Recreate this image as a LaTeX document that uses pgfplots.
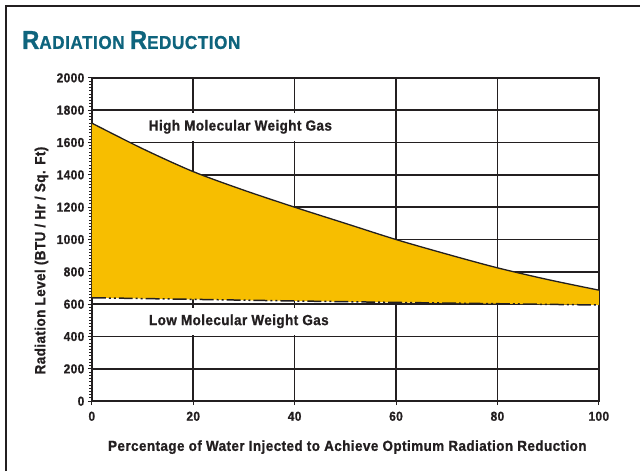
\documentclass[border=0pt]{standalone}
\usepackage{fontspec}
\setmainfont{Liberation Sans Bold}[FakeStretch=0.92, LetterSpace=3, FakeBold=1]
\usepackage{pgfplots}
\pgfplotsset{compat=1.18}
\usepgfplotslibrary{fillbetween}
\definecolor{fillc}{RGB}{247,190,0}
\definecolor{gridc}{RGB}{35,31,32}
\definecolor{titlec}{RGB}{14,100,125}
\begin{document}
\begin{tikzpicture}
\path (0bp,0bp) rectangle (641bp,472bp);
\draw[line width=2.5bp, gridc] (6bp,0bp) -- (6bp,466bp) -- (641bp,466bp);
\node[anchor=base west, text=titlec, inner sep=0pt] at (22bp,423bp) {\fontsize{26}{26}\selectfont R\fontsize{18.7}{18.7}\selectfont ADIATION \fontsize{26}{26}\selectfont R\fontsize{18.7}{18.7}\selectfont EDUCTION};
\begin{axis}[
  at={(92bp,70bp)}, anchor=south west,
  scale only axis, width=508bp, height=324bp,
  xmin=0, xmax=100, ymin=0, ymax=2000,
  xtick={0,20,...,100}, ytick={0,200,...,2000},
  minor y tick num=9,
  grid=major,
  major grid style={gridc, line width=1.5bp},
  axis line style={gridc, line width=1.6bp},
  tick style={gridc, line width=1bp},
  tick align=outside,
  major tick length=4bp, minor tick length=2.5bp,
  xtick pos=bottom, ytick pos=left,
  /pgf/number format/assume math mode=true,
  /pgf/number format/1000 sep={},
  ticklabel style={font=\fontsize{13}{13}\selectfont, text=gridc},
  xticklabel style={yshift=-3bp},
  xlabel={Percentage of Water Injected to Achieve Optimum Radiation Reduction},
  ylabel={Radiation Level (BTU / Hr / Sq. Ft)},
  label style={font=\fontsize{14.7}{14.7}\selectfont, text=gridc},
  xlabel style={at={(axis description cs:0.5,0)}, anchor=center, yshift=-46bp, xshift=2bp},
  ylabel style={at={(axis description cs:0,0.435)}, anchor=center, yshift=50.5bp},
]
\addplot[name path=up, draw=none] coordinates {(0,1720) (10,1562) (20,1420) (30,1305) (40,1200) (50,1100) (60,1000) (70,910) (80,825) (90,752) (100,687)};
\addplot[name path=lo, draw=none] coordinates {(0,640) (20,630) (40,620) (60,611) (80,603) (100,595)};
\addplot[fillc] fill between[of=up and lo];
\addplot[gridc, line width=1.3bp, smooth] coordinates {(0,1720) (10,1562) (20,1420) (30,1305) (40,1200) (50,1100) (60,1000) (70,910) (80,825) (90,752) (100,687)};
\addplot[gridc, line width=1.5bp, dash pattern=on 14bp off 3bp on 2bp off 3bp on 2bp off 3bp] coordinates {(0,640) (20,630) (40,620) (60,611) (80,603) (100,595)};
\node[font=\fontsize{14.7}{14.7}\selectfont, text=gridc, fill=white, inner xsep=3bp, inner ysep=7bp] at (axis cs:29.3,1697) {High Molecular Weight Gas};
\node[font=\fontsize{14.7}{14.7}\selectfont, text=gridc, fill=white, inner xsep=3bp, inner ysep=7bp] at (axis cs:29,494) {Low Molecular Weight Gas};
\end{axis}
\end{tikzpicture}
\end{document}
